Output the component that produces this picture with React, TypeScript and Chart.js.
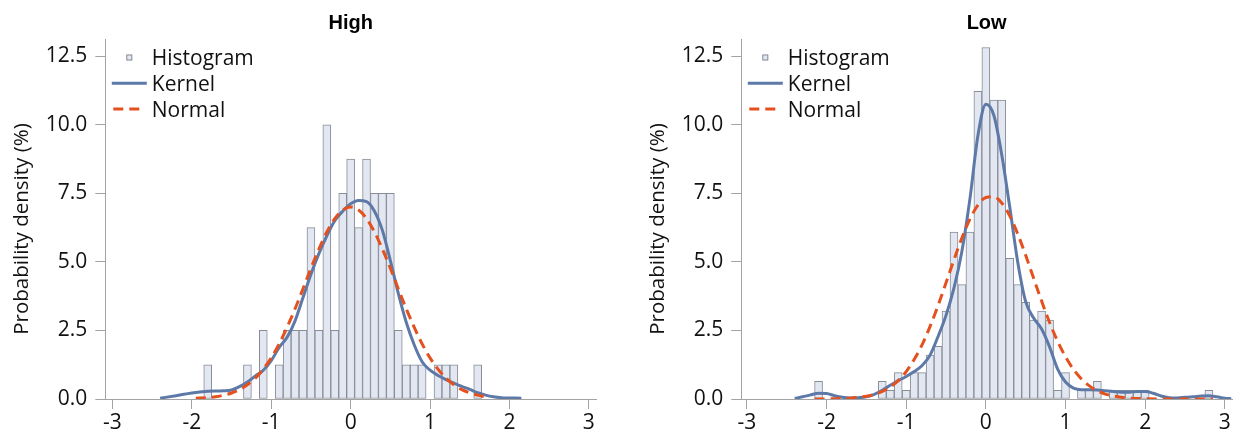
import React, { useEffect, useRef } from 'react';
import { Chart, registerables } from 'chart.js';

Chart.register(...registerables);

// ---------- data ----------
const xTicks = [-3, -2, -1, 0, 1, 2, 3];
const yTicks = [0, 2.5, 5, 7.5, 10, 12.5];
const legendLabels = ['Histogram', 'Kernel', 'Normal'];
const yTitle = 'Probability density (%)';

// High
const highBinCenters = [-1.8, -1.3, -1.1, -0.9, -0.8, -0.7, -0.6, -0.5, -0.4, -0.3, -0.2, -0.1, 0.0, 0.1, 0.2, 0.3, 0.4, 0.5, 0.6, 0.7, 0.8, 0.9, 1.1, 1.2, 1.3, 1.6];
const highBinPct = [1.25, 1.25, 2.5, 1.25, 2.5, 2.5, 2.5, 6.25, 2.5, 10, 2.5, 7.5, 8.75, 6.25, 8.75, 7.5, 7.5, 7.5, 2.5, 1.25, 1.25, 1.25, 1.25, 1.25, 1.25, 1.25];

const highKernelX = [-2.4, -2.2, -2.0, -1.8, -1.6, -1.5, -1.4, -1.3, -1.2, -1.1, -1.0, -0.9, -0.8, -0.7, -0.6, -0.5, -0.4, -0.3, -0.2, -0.1, 0.0, 0.1, 0.2, 0.3, 0.4, 0.5, 0.6, 0.7, 0.8, 0.9, 1.0, 1.1, 1.2, 1.3, 1.4, 1.5, 1.6, 1.7, 1.8, 1.9, 2.15];
const highKernelY = [0.03, 0.12, 0.22, 0.28, 0.30, 0.33, 0.45, 0.62, 0.84, 1.05, 1.40, 1.88, 2.25, 2.85, 3.70, 4.55, 5.30, 5.95, 6.50, 6.85, 7.12, 7.24, 7.20, 6.85, 6.15, 5.05, 3.85, 2.80, 1.98, 1.36, 1.05, 0.86, 0.71, 0.58, 0.46, 0.35, 0.23, 0.14, 0.08, 0.05, 0.03];

const highNormalX = [-1.95, -1.8, -1.7, -1.6, -1.5, -1.4, -1.3, -1.2, -1.1, -1.0, -0.9, -0.8, -0.7, -0.6, -0.5, -0.4, -0.3, -0.2, -0.1, 0.0, 0.1, 0.2, 0.3, 0.4, 0.5, 0.6, 0.7, 0.8, 0.9, 1.0, 1.1, 1.2, 1.3, 1.4, 1.5, 1.6, 1.71];
const highNormalY = [0.03, 0.05, 0.08, 0.14, 0.22, 0.34, 0.52, 0.76, 1.09, 1.50, 2.01, 2.62, 3.29, 4.02, 4.77, 5.47, 6.09, 6.58, 6.89, 7.00, 6.89, 6.58, 6.09, 5.47, 4.77, 4.02, 3.29, 2.62, 2.01, 1.50, 1.09, 0.76, 0.52, 0.34, 0.22, 0.14, 0.07];

// Low
const lowBinCenters = [-2.1, -1.3, -1.2, -1.1, -1.0, -0.9, -0.8, -0.7, -0.6, -0.5, -0.4, -0.3, -0.2, -0.1, 0.0, 0.1, 0.2, 0.3, 0.4, 0.5, 0.6, 0.7, 0.8, 0.9, 1.0, 1.2, 1.3, 1.4, 1.6, 1.7, 1.8, 1.9, 2.0, 2.8];
const lowBinPct = [0.64, 0.64, 0.32, 0.96, 0.32, 0.96, 0.96, 1.60, 1.92, 3.21, 6.09, 4.17, 6.09, 11.22, 12.82, 10.90, 10.90, 5.13, 4.17, 3.53, 2.88, 3.21, 2.88, 0.32, 0.96, 0.32, 0.32, 0.64, 0.32, 0.32, 0.32, 0.32, 0.32, 0.32];

const lowKernelX = [-2.4, -2.3, -2.2, -2.1, -2.0, -1.9, -1.8, -1.7, -1.6, -1.5, -1.4, -1.3, -1.2, -1.1, -1.0, -0.9, -0.8, -0.7, -0.6, -0.5, -0.4, -0.3, -0.2, -0.1, 0.0, 0.1, 0.2, 0.3, 0.4, 0.5, 0.6, 0.7, 0.8, 0.9, 1.0, 1.1, 1.2, 1.3, 1.4, 1.5, 1.6, 1.7, 1.8, 1.9, 2.0, 2.1, 2.2, 2.3, 2.4, 2.5, 2.6, 2.7, 2.8, 2.9, 3.0, 3.08];
const lowKernelY = [0.02, 0.08, 0.15, 0.21, 0.20, 0.12, 0.06, 0.04, 0.05, 0.08, 0.17, 0.32, 0.50, 0.67, 0.82, 1.00, 1.22, 1.60, 2.28, 3.05, 4.05, 5.40, 7.30, 9.60, 10.75, 10.35, 8.90, 7.00, 5.00, 3.55, 2.95, 2.55, 1.90, 1.10, 0.62, 0.40, 0.34, 0.34, 0.33, 0.30, 0.27, 0.25, 0.25, 0.27, 0.27, 0.21, 0.11, 0.05, 0.04, 0.06, 0.08, 0.11, 0.12, 0.08, 0.03, 0.01];

const lowNormalX = [-2.15, -2.0, -1.9, -1.8, -1.7, -1.6, -1.5, -1.4, -1.3, -1.2, -1.1, -1.0, -0.9, -0.8, -0.7, -0.6, -0.5, -0.4, -0.3, -0.2, -0.1, 0.0, 0.1, 0.2, 0.3, 0.4, 0.5, 0.6, 0.7, 0.8, 0.9, 1.0, 1.1, 1.2, 1.3, 1.4, 1.5, 1.6, 1.7, 1.8, 1.9, 2.0, 2.2, 2.4, 2.6, 2.85];
const lowNormalY = [0.0, 0.0, 0.01, 0.02, 0.03, 0.06, 0.10, 0.17, 0.28, 0.44, 0.67, 1.00, 1.44, 1.98, 2.65, 3.41, 4.24, 5.08, 5.88, 6.56, 7.07, 7.35, 7.38, 7.15, 6.68, 6.02, 5.24, 4.40, 3.57, 2.79, 2.11, 1.54, 1.08, 0.73, 0.48, 0.30, 0.18, 0.11, 0.06, 0.03, 0.02, 0.01, 0.0, 0.0, 0.0, 0.0];

// ---------- styles ----------
const FONT = '"Open Sans", "Noto Sans", sans-serif';
const AXIS = '#a3a3a3';
const TEXT = '#111111';
const BAR_FILL = '#e2e7f1';
const BAR_EDGE = '#878c96';
const KERNEL = '#5d79a8';
const NORMAL = '#e4511e';

const decorPlugin = {
  id: 'decor',
  afterDatasetsDraw(chart: any) {
    const { ctx, chartArea } = chart;
    const x0 = chartArea.left;
    const y0 = chartArea.top;
    ctx.save();
    // y-axis title
    ctx.font = `20.5px ${FONT}`;
    ctx.fillStyle = TEXT;
    ctx.textAlign = 'center';
    ctx.textBaseline = 'middle';
    ctx.save();
    ctx.translate(13.8, (chartArea.top + chartArea.bottom) / 2 + 10);
    ctx.rotate(-Math.PI / 2);
    ctx.fillText(yTitle, 0, 0);
    ctx.restore();
    // legend inside plot
    ctx.font = `21px ${FONT}`;
    ctx.textBaseline = 'alphabetic';
    ctx.textAlign = 'left';
    chart.data.datasets.forEach((ds: any, i: number) => {
      const base = y0 + 26 + i * 25.8;
      const cy = base - 7.5;
      if (i === 0) {
        ctx.fillStyle = BAR_FILL;
        ctx.strokeStyle = BAR_EDGE;
        ctx.lineWidth = 1;
        ctx.fillRect(x0 + 21, cy - 3, 6, 6);
        ctx.strokeRect(x0 + 21.5, cy - 2.5, 5, 5);
      } else {
        ctx.strokeStyle = ds.borderColor;
        ctx.lineWidth = 3;
        ctx.setLineDash(ds.borderDash || []);
        ctx.beginPath();
        if (ds.borderDash) {
          ctx.moveTo(x0 + 8, cy);
          ctx.lineTo(x0 + 34, cy);
        } else {
          ctx.moveTo(x0 + 6.5, cy);
          ctx.lineTo(x0 + 41.5, cy);
        }
        ctx.stroke();
        ctx.setLineDash([]);
      }
      ctx.fillStyle = TEXT;
      ctx.fillText(ds.label, x0 + 46.5, base);
    });
    ctx.restore();
  },
};

type PanelProps = {
  title: string;
  bins: number[];
  pct: number[];
  kx: number[];
  ky: number[];
  nx: number[];
  ny: number[];
  xMin: number;
  xMax: number;
};

function Panel({ title, bins, pct, kx, ky, nx, ny, xMin, xMax }: PanelProps) {
  const ref = useRef<HTMLCanvasElement | null>(null);
  useEffect(() => {
    if (!ref.current) return;
    const chart = new Chart(ref.current, {
      type: 'bar',
      data: {
        datasets: [
          {
            type: 'bar',
            label: legendLabels[0],
            data: bins.map((x, i) => ({ x, y: pct[i] })),
            backgroundColor: BAR_FILL,
            borderColor: BAR_EDGE,
            borderWidth: 1,
            borderSkipped: false,
            barPercentage: 1,
            categoryPercentage: 1,
            order: 3,
          } as any,
          {
            type: 'line',
            label: legendLabels[1],
            data: kx.map((x, i) => ({ x, y: ky[i] })),
            borderColor: KERNEL,
            borderWidth: 3,
            pointRadius: 0,
            cubicInterpolationMode: 'monotone',
            fill: false,
            order: 2,
          } as any,
          {
            type: 'line',
            label: legendLabels[2],
            data: nx.map((x, i) => ({ x, y: ny[i] })),
            borderColor: NORMAL,
            borderWidth: 3,
            borderDash: [10, 6],
            pointRadius: 0,
            cubicInterpolationMode: 'monotone',
            fill: false,
            order: 1,
          } as any,
        ],
      },
      options: {
        animation: false,
        responsive: false,
        events: [],
        layout: { padding: { left: 0, right: 12, top: 0, bottom: 0 } },
        plugins: {
          legend: { display: false },
          tooltip: { enabled: false },
          title: {
            display: true,
            text: title,
            fullSize: false,
            color: '#000',
            font: { family: '"Liberation Sans", Arial, sans-serif', weight: 'bold', size: 20, lineHeight: 1.2 },
            padding: { top: 3, bottom: 4 },
          },
        },
        scales: {
          x: {
            type: 'linear',
            min: xMin,
            max: xMax,
            offset: false,
            afterBuildTicks: (s: any) => {
              s.ticks = xTicks.map((v) => ({ value: v }));
            },
            afterFit: (s: any) => {
              s.height = 35;
            },
            border: { color: AXIS, width: 1 },
            grid: { drawOnChartArea: false, offset: false, color: AXIS, tickLength: 10 },
            ticks: {
              color: TEXT,
              padding: 4,
              maxRotation: 0,
              font: { family: FONT, size: 21, lineHeight: 1 },
              callback: (v: any) => String(v),
            },
          },
          y: {
            type: 'linear',
            min: 0,
            max: 13.13,
            afterBuildTicks: (s: any) => {
              s.ticks = yTicks.map((v) => ({ value: v }));
            },
            afterFit: (s: any) => {
              s.width = 97.3;
            },
            border: { color: AXIS, width: 1 },
            grid: { drawOnChartArea: false, color: AXIS, tickLength: 10 },
            ticks: {
              color: TEXT,
              padding: 8,
              font: { family: FONT, size: 21 },
              callback: (v: any) => Number(v).toFixed(1),
            },
          },
        },
      } as any,
      plugins: [decorPlugin],
    });
    return () => chart.destroy();
  }, []);
  return <canvas ref={ref} width={600} height={426} style={{ display: 'block' }} />;
}

export default function App() {
  return (
    <div style={{ position: 'relative', width: 1226, height: 426, overflow: 'hidden', background: '#fff' }}>
      <div style={{ position: 'absolute', left: 0, top: 0 }}>
        <Panel title="High" bins={highBinCenters} pct={highBinPct} kx={highKernelX} ky={highKernelY} nx={highNormalX} ny={highNormalY} xMin={-3.09} xMax={3.09} />
      </div>
      <div style={{ position: 'absolute', left: 636, top: 0 }}>
        <Panel title="Low" bins={lowBinCenters} pct={lowBinPct} kx={lowKernelX} ky={lowKernelY} nx={lowNormalX} ny={lowNormalY} xMin={-3.07} xMax={3.09} />
      </div>
    </div>
  );
}
